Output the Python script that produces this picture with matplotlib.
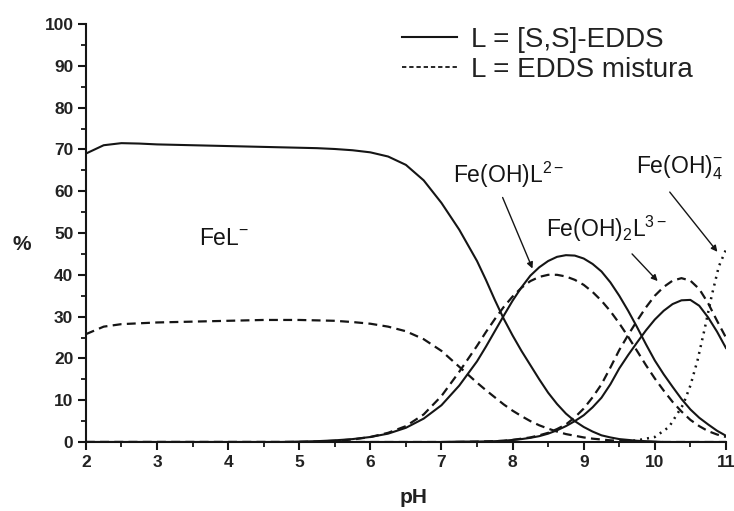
import matplotlib.pyplot as plt
from matplotlib.lines import Line2D

plt.rcParams['font.family'] = ['Liberation Sans', 'DejaVu Sans']
plt.rcParams['mathtext.fontset'] = 'custom'
plt.rcParams['mathtext.rm'] = 'Liberation Sans'
plt.rcParams['mathtext.it'] = 'Liberation Sans:italic'

# ---------------------------
# DATA
# ---------------------------
ph = [2.0, 2.25, 2.5, 2.75, 3.0, 3.25, 3.5, 3.75, 4.0, 4.25, 4.5, 4.75,
      5.0, 5.25, 5.5, 5.75, 6.0, 6.25, 6.5, 6.75, 7.0, 7.25, 7.5,
      7.625, 7.75, 7.875, 8.0, 8.125, 8.25, 8.375, 8.5, 8.625, 8.75, 8.875,
      9.0, 9.125, 9.25, 9.375, 9.5, 9.625, 9.75, 9.875, 10.0, 10.125, 10.25,
      10.375, 10.5, 10.625, 10.75, 10.875, 11.0]

# L = [S,S]-EDDS (solid)
ss_fel = [69.0, 71.0, 71.5, 71.4, 71.2, 71.1, 71.0, 70.9, 70.8, 70.7, 70.6, 70.5,
          70.4, 70.3, 70.1, 69.8, 69.3, 68.3, 66.3, 62.6, 57.2, 50.8, 43.3,
          38.8, 34.0, 29.5, 25.5, 21.8, 18.4, 15.0, 11.8, 9.1, 6.8, 5.0,
          3.6, 2.5, 1.6, 1.1, 0.7, 0.5, 0.3, 0.2, 0.1, 0, 0,
          0, 0, 0, 0, 0, 0]
ss_feohl = [0, 0, 0, 0, 0, 0, 0, 0, 0, 0, 0, 0,
            0.1, 0.2, 0.4, 0.7, 1.2, 2.0, 3.4, 5.6, 8.8, 13.5, 19.3,
            22.8, 26.5, 30.2, 33.8, 37.0, 39.8, 41.8, 43.3, 44.3, 44.7, 44.6,
            43.9, 42.6, 40.8, 38.2, 35.0, 31.4, 27.5, 23.4, 19.5, 16.2, 13.2,
            10.3, 7.8, 5.8, 4.2, 2.7, 1.5]
ss_feoh2l = [0, 0, 0, 0, 0, 0, 0, 0, 0, 0, 0, 0,
             0, 0, 0, 0, 0, 0, 0, 0, 0, 0.1, 0.1,
             0.15, 0.2, 0.3, 0.5, 0.7, 1.0, 1.4, 2.0, 2.8, 3.8, 5.0,
             6.4, 8.3, 10.6, 13.8, 17.6, 20.8, 23.8, 26.7, 29.3, 31.4, 33.0,
             33.9, 34.0, 32.6, 29.8, 26.4, 22.5]

# L = EDDS mistura (dashed)
mx_fel = [25.8, 27.6, 28.2, 28.4, 28.6, 28.7, 28.8, 28.9, 29.0, 29.1, 29.2, 29.2,
          29.2, 29.1, 29.0, 28.7, 28.3, 27.6, 26.5, 24.6, 21.8, 18.0, 14.2,
          12.4, 10.7, 9.0, 7.5, 6.2, 5.0, 4.0, 3.2, 2.5, 1.9, 1.5,
          1.1, 0.8, 0.6, 0.4, 0.3, 0.2, 0.1, 0.05, 0, 0, 0,
          0, 0, 0, 0, 0, 0]
mx_feohl = [0, 0, 0, 0, 0, 0, 0, 0, 0, 0, 0, 0,
            0, 0.1, 0.3, 0.6, 1.2, 2.2, 3.8, 6.6, 11.0, 16.8, 23.0,
            26.3, 29.4, 32.3, 34.8, 36.9, 38.5, 39.5, 40.0, 40.0, 39.6, 38.8,
            37.6, 35.9, 33.8, 31.3, 28.4, 25.2, 21.8, 18.4, 15.2, 12.3, 9.6,
            7.3, 5.3, 3.8, 2.6, 1.8, 1.2]
mx_feoh2l = [0, 0, 0, 0, 0, 0, 0, 0, 0, 0, 0, 0,
             0, 0, 0, 0, 0, 0, 0, 0, 0, 0, 0.1,
             0.15, 0.2, 0.3, 0.5, 0.8, 1.1, 1.6, 2.2, 3.1, 4.2, 5.9,
             8.0, 10.7, 13.8, 17.8, 22.0, 25.6, 29.0, 32.2, 35.0, 37.1, 38.6,
             39.2, 38.6, 36.6, 33.2, 29.0, 25.0]

# Fe(OH)4- (dotted)
ph_oh4 = [9.5, 9.75, 10.0, 10.2, 10.4, 10.5, 10.6, 10.7, 10.8, 10.9, 11.0]
feoh4 = [0, 0.4, 1.2, 3.6, 9.0, 13.5, 19.5, 27.0, 35.0, 42.0, 46.0]

x_ticks = [2, 3, 4, 5, 6, 7, 8, 9, 10, 11]
y_ticks = [0, 10, 20, 30, 40, 50, 60, 70, 80, 90, 100]

# species labels: (text, label position, arrow start, arrow end)
labels = [
    (r'$\mathrm{FeL^{-}}$', (3.95, 48.8), None, None),
    (r'$\mathrm{Fe(OH)L^{2-}}$', (7.95, 64.0), (7.86, 58.5), (8.28, 41.5)),
    (r'$\mathrm{Fe(OH)_2L^{3-}}$', (9.32, 51.0), (9.68, 45.0), (10.04, 38.5)),
    (r'$\mathrm{Fe(OH)_4^{-}}$', (10.35, 65.5), (10.21, 59.8), (10.88, 45.5)),
]

# ---------------------------
# PLOT
# ---------------------------
ink = '#151515'
dash = (0, (4, 2.4))

fig = plt.figure(figsize=(7.34, 5.11), dpi=100)
ax = fig.add_axes([0.117, 0.135, 0.872, 0.818])

ax.plot(ph, ss_fel, color=ink, lw=1.5)
ax.plot(ph, ss_feohl, color=ink, lw=1.5)
ax.plot(ph, ss_feoh2l, color=ink, lw=1.5)

ax.plot(ph, mx_fel, color=ink, lw=1.6, ls=dash)
ax.plot(ph, mx_feohl, color=ink, lw=1.6, ls=dash)
ax.plot(ph, mx_feoh2l, color=ink, lw=1.6, ls=dash)

ax.plot(ph_oh4, feoh4, color=ink, lw=1.8, ls=(0, (0.8, 2.0)))

for txt, pos, start, end in labels:
    ax.text(pos[0], pos[1], txt, fontsize=16.5, ha='center', va='center', color=ink)
    if start is not None:
        ax.annotate('', xy=end, xytext=start,
                    arrowprops=dict(arrowstyle='-|>', color=ink, lw=1.0,
                                    mutation_scale=9, shrinkA=0, shrinkB=0))

ax.set_xlim(2, 11)
ax.set_ylim(0, 100)
ax.set_xticks(x_ticks)
ax.set_yticks(y_ticks)
ax.set_xticks([t + 0.5 for t in x_ticks[:-1]], minor=True)
ax.set_yticks([t + 5 for t in y_ticks[:-1]], minor=True)

for side in ['top', 'right']:
    ax.spines[side].set_visible(False)
for side in ['left', 'bottom']:
    ax.spines[side].set_linewidth(1.5)
    ax.spines[side].set_color(ink)

ax.tick_params(which='major', direction='out', length=6, width=1.5, color=ink,
               labelsize=12.5, pad=3)
ax.tick_params(which='minor', direction='out', length=3.5, width=1.3, color=ink)
for lab in ax.get_xticklabels() + ax.get_yticklabels():
    lab.set_fontweight('bold')
    lab.set_color('#222222')

fig.text(0.030, 0.521, '%', fontsize=15, fontweight='bold', ha='center', va='center', color='#222222')
fig.text(0.564, 0.027, 'pH', fontsize=15, fontweight='bold', ha='center', va='center', color='#222222')

# legend with proxy handles (finer dashes in the key, like the original)
h_ss = Line2D([], [], color=ink, lw=1.5)
h_mx = Line2D([], [], color=ink, lw=1.3, ls=(0, (2.4, 1.6)))
leg = ax.legend([h_ss, h_mx], ['L = [S,S]-EDDS', 'L = EDDS mistura'],
                loc='upper right', bbox_to_anchor=(0.963, 0.975),
                bbox_transform=fig.transFigure, frameon=False, fontsize=20,
                handlelength=2.0, handletextpad=0.5, labelspacing=0.15, borderpad=0)
for t in leg.get_texts():
    t.set_color('#222222')

fig.savefig('out.png', dpi=100)
